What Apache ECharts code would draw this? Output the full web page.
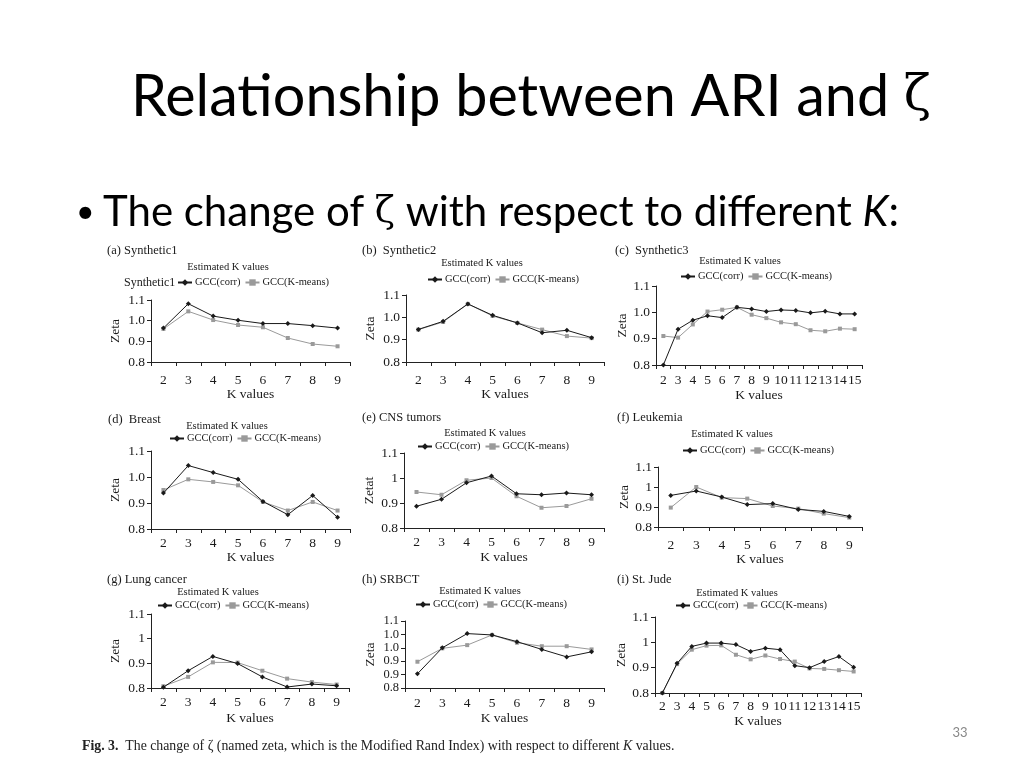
<!DOCTYPE html>
<html><head><meta charset="utf-8">
<script src="https://cdn.jsdelivr.net/npm/echarts@6/dist/echarts.min.js"></script>
<style>html,body{margin:0;padding:0;background:#fff}#c{width:1024px;height:768px}</style>
</head><body><div id="c"></div>
<script>
// ---------- data ----------
const kLabels9 = ['2','3','4','5','6','7','8','9'];
const kLabels15 = ['2','3','4','5','6','7','8','9','10','11','12','13','14','15'];
const yTicksA = ['0.8','0.9','1.0','1.1'];
const yTicksB = ['0.8','0.9','1','1.1'];
const yTicksSrbct = ['0.8','0.9','0.9','1.0','1.0','1.1'];

const synthetic1Corr   = [0.964, 1.082, 1.022, 1.002, 0.986, 0.986, 0.976, 0.964];
const synthetic1Kmeans = [0.960, 1.045, 1.003, 0.979, 0.968, 0.916, 0.887, 0.876];
const synthetic2Corr   = [0.946, 0.982, 1.060, 1.009, 0.975, 0.931, 0.942, 0.909];
const synthetic2Kmeans = [0.945, 0.979, 1.060, 1.006, 0.975, 0.945, 0.916, 0.907];
const synthetic3Corr   = [0.800, 0.936, 0.970, 0.987, 0.980, 1.019, 1.013, 1.003, 1.009, 1.007, 0.998, 1.004, 0.994, 0.994];
const synthetic3Kmeans = [0.910, 0.904, 0.954, 1.003, 1.010, 1.019, 0.991, 0.978, 0.962, 0.955, 0.932, 0.928, 0.938, 0.936];
const breastCorr   = [0.938, 1.044, 1.017, 0.991, 0.906, 0.855, 0.929, 0.845];
const breastKmeans = [0.950, 0.991, 0.981, 0.968, 0.904, 0.871, 0.904, 0.871];
const cnsCorr   = [0.887, 0.915, 0.981, 1.008, 0.937, 0.933, 0.940, 0.933];
const cnsKmeans = [0.944, 0.933, 0.991, 1.000, 0.927, 0.881, 0.888, 0.917];
const leukemiaCorr   = [0.958, 0.980, 0.950, 0.912, 0.917, 0.888, 0.878, 0.853];
const leukemiaKmeans = [0.897, 1.000, 0.947, 0.942, 0.905, 0.892, 0.867, 0.847];
const lungCorr   = [0.803, 0.870, 0.928, 0.899, 0.845, 0.804, 0.816, 0.809];
const lungKmeans = [0.807, 0.845, 0.904, 0.903, 0.870, 0.838, 0.824, 0.814];
const srbctCorr   = [0.853, 0.950, 1.003, 0.998, 0.973, 0.944, 0.916, 0.935];
const srbctKmeans = [0.898, 0.948, 0.960, 0.998, 0.969, 0.956, 0.956, 0.944];
const stJudeCorr   = [0.800, 0.917, 0.984, 0.997, 0.997, 0.991, 0.964, 0.977, 0.971, 0.908, 0.900, 0.924, 0.944, 0.902];
const stJudeKmeans = [0.800, 0.914, 0.971, 0.987, 0.988, 0.951, 0.933, 0.948, 0.934, 0.924, 0.897, 0.895, 0.890, 0.885];

const panelTitles = ['(a) Synthetic1','(b)  Synthetic2','(c)  Synthetic3','(d)  Breast','(e) CNS tumors','(f) Leukemia','(g) Lung cancer','(h) SRBCT','(i) St. Jude'];
const yNames = ['Zeta','Zeta','Zeta','Zeta','Zetat','Zeta','Zeta','Zeta','Zeta'];

const panels = [
  {cats:kLabels9,  corr:synthetic1Corr, km:synthetic1Kmeans, ticks:yTicksA},
  {cats:kLabels9,  corr:synthetic2Corr, km:synthetic2Kmeans, ticks:yTicksA},
  {cats:kLabels15, corr:synthetic3Corr, km:synthetic3Kmeans, ticks:yTicksA},
  {cats:kLabels9,  corr:breastCorr,     km:breastKmeans,     ticks:yTicksA},
  {cats:kLabels9,  corr:cnsCorr,        km:cnsKmeans,        ticks:yTicksB},
  {cats:kLabels9,  corr:leukemiaCorr,   km:leukemiaKmeans,   ticks:yTicksB},
  {cats:kLabels9,  corr:lungCorr,       km:lungKmeans,       ticks:yTicksB},
  {cats:kLabels9,  corr:srbctCorr,      km:srbctKmeans,      ticks:yTicksSrbct},
  {cats:kLabels15, corr:stJudeCorr,     km:stJudeKmeans,     ticks:yTicksB}
];

// ---------- layout ----------
const layout = [
  {grid:{left:151,top:300,width:199,height:62}, title:[107,251], est:[228,267], legend:[177,283], xm:11,  xg:22.5, yg:29},
  {grid:{left:406,top:295,width:198,height:67}, title:[362,251], est:[482,263], legend:[427,280], xm:11,  xg:23.5, yg:29},
  {grid:{left:656,top:286,width:206,height:79}, title:[615,251], est:[740,261], legend:[680,277], xm:8.5, xg:19.5, yg:21},
  {grid:{left:151,top:451,width:199,height:78}, title:[108,420], est:[227,426], legend:[169,439], xm:7,   xg:21.5, yg:29},
  {grid:{left:404,top:453,width:200,height:75}, title:[362,418], est:[485,433], legend:[417,447], xm:7.5, xg:22.5, yg:28},
  {grid:{left:658,top:467,width:204,height:60}, title:[617,418], est:[732,434], legend:[682,451], xm:11,  xg:23.5, yg:23},
  {grid:{left:151,top:614,width:198,height:74}, title:[107,580], est:[218,592], legend:[157,606], xm:7,   xg:23.5, yg:29},
  {grid:{left:405,top:621,width:199,height:67}, title:[362,580], est:[480,591], legend:[415,605], xm:8.5, xg:23.5, yg:28},
  {grid:{left:655,top:617,width:206,height:76}, title:[617,580], est:[737,593], legend:[675,606], xm:6.5, xg:16.5, yg:21}
];

const SERIF = 'Liberation Serif';
const TXT = '#1a1a1a';

const grid = [], xAxis = [], yAxis = [], series = [], legend = [], graphic = [];
panels.forEach((p, i) => {
  const L = layout[i];
  grid.push(Object.assign({containLabel:false}, L.grid));
  xAxis.push({
    type:'category', gridIndex:i, data:p.cats, boundaryGap:true,
    name:'K values', nameLocation:'middle', nameGap:L.xg,
    nameTextStyle:{fontFamily:SERIF, fontSize:13.5, color:TXT},
    axisLine:{lineStyle:{color:'#222', width:1}},
    axisTick:{show:true, length:4, lineStyle:{color:'#222'}},
    axisLabel:{fontFamily:SERIF, fontSize:13.5, color:TXT, margin:L.xm, interval:0},
    splitLine:{show:false}
  });
  const isSrbct = p.ticks.length === 6;
  yAxis.push({
    type:'value', gridIndex:i, min:0.8, max:isSrbct ? 1.05 : 1.1, interval:isSrbct ? 0.05 : 0.1,
    name:yNames[i], nameLocation:'middle', nameGap:L.yg, nameRotate:90,
    nameTextStyle:{fontFamily:SERIF, fontSize:13.5, color:TXT},
    axisLine:{show:true, lineStyle:{color:'#222', width:1}},
    axisTick:{show:true, length:4, lineStyle:{color:'#222'}},
    axisLabel:{fontFamily:SERIF, fontSize:isSrbct ? 12.5 : 13.5, lineHeight:isSrbct ? 11 : 14, color:TXT, margin:6,
      showMinLabel:true, showMaxLabel:true, hideOverlap:false,
      formatter:(v, idx) => p.ticks[idx] !== undefined ? p.ticks[idx] : ''},
    splitLine:{show:false}
  });
  series.push({
    name:'GCC(corr)', type:'line', xAxisIndex:i, yAxisIndex:i, data:p.corr,
    symbol:'diamond', symbolSize:5, showSymbol:true,
    lineStyle:{color:'#1a1a1a', width:1}, itemStyle:{color:'#1a1a1a'}, z:3
  });
  series.push({
    name:'GCC(K-means)', type:'line', xAxisIndex:i, yAxisIndex:i, data:p.km,
    symbol:'rect', symbolSize:4, showSymbol:true,
    lineStyle:{color:'#9a9a9a', width:1}, itemStyle:{color:'#9a9a9a'}, z:2
  });
  legend.push({
    left:L.legend[0], top:L.legend[1] - 6, padding:0, itemGap:4,
    itemWidth:14, itemHeight:8, selectedMode:false,
    data:['GCC(corr)','GCC(K-means)'],
    textStyle:{fontFamily:SERIF, fontSize:10.5, color:TXT, padding:[0,0,0,-2]}
  });
  graphic.push({type:'text', x:L.title[0], y:L.title[1],
    style:{text:panelTitles[i], fontFamily:SERIF, fontSize:12.5, fill:TXT, align:'left', verticalAlign:'middle'}});
  graphic.push({type:'text', x:L.est[0], y:L.est[1],
    style:{text:'Estimated K values', fontFamily:SERIF, fontSize:10.5, fill:TXT, align:'center', verticalAlign:'middle'}});
});

graphic.push({type:'text', x:124, y:283,
  style:{text:'Synthetic1', fontFamily:SERIF, fontSize:12, fill:TXT, align:'left', verticalAlign:'middle'}});

// slide title
graphic.push({type:'text', x:531, y:97,
  style:{text:'Relationship between ARI and {z|ζ}', fontFamily:'Lato', fontSize:57.5, fill:'#000',
    align:'center', verticalAlign:'middle',
    rich:{z:{fontFamily:'DejaVu Serif', fontSize:50, fill:'#000'}}}});
// bullet
graphic.push({type:'text', x:76, y:213,
  style:{text:'•', fontFamily:'Lato', fontSize:32, fill:'#000', align:'left', verticalAlign:'middle'}});
graphic.push({type:'text', x:103, y:212,
  style:{text:'The change of {z|ζ} with respect to different {k|K}:', fontFamily:'Lato', fontSize:42, fill:'#000',
    align:'left', verticalAlign:'middle',
    rich:{z:{fontFamily:'DejaVu Serif', fontSize:37, fill:'#000'}, k:{fontFamily:'Lato', fontStyle:'italic', fontSize:42, fill:'#000'}}}});
// page number
graphic.push({type:'text', x:960, y:733,
  style:{text:'33', fontFamily:'Lato', fontSize:13, fill:'#888', align:'center', verticalAlign:'middle'}});
// caption
graphic.push({type:'text', x:82, y:746,
  style:{text:'{b|Fig. 3.}  The change of ζ (named zeta, which is the Modified Rand Index) with respect to different {i|K} values.',
    fontFamily:SERIF, fontSize:13.8, fill:'#222', align:'left', verticalAlign:'middle',
    rich:{b:{fontFamily:SERIF, fontWeight:'bold', fontSize:13.8, fill:'#222'}, i:{fontFamily:SERIF, fontStyle:'italic', fontSize:13.8, fill:'#222'}}}});

const chart = echarts.init(document.getElementById('c'), null, {renderer:'canvas'});
chart.setOption({
  backgroundColor:'#fff', animation:false,
  grid, xAxis, yAxis, series, legend, graphic
});
</script></body></html>
